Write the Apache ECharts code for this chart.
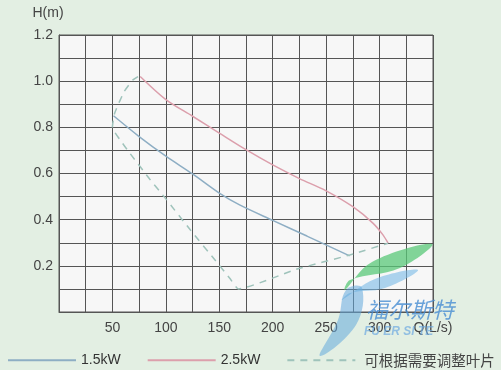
<!DOCTYPE html>
<html><head><meta charset="utf-8">
<script src="https://cdn.jsdelivr.net/npm/echarts@6/dist/echarts.min.js"></script>
<style>html,body{margin:0;padding:0;background:#e3efe3;}#c{width:501px;height:370px;}</style>
</head><body><div id="c"></div>
<script>
const seriesNames = ['1.5kW', '2.5kW', '可根据需要调整叶片'];
const curve15 = [[51,0.85],[75,0.76],[100,0.675],[125,0.598],[150,0.515],[169,0.464],[200,0.397],[232,0.329],[272,0.243]];
const curve25 = [[76,1.02],[100,0.92],[125,0.848],[150,0.775],[175,0.703],[200,0.637],[225,0.578],[250,0.525],[275,0.456],[294,0.384],[303,0.335],[308,0.298]];
const curveAdj = [[74,1.02],[69,1.005],[61,0.955],[52,0.86],[50,0.80],[58,0.74],[66,0.69],[85,0.575],[100,0.49],[123,0.355],[146,0.225],[160,0.145],[168,0.10],[222,0.185],[272,0.247],[308,0.298]];
const xTickLabels = {50:'50',100:'100',150:'150',200:'200',250:'250',300:'300',350:'Q(L/s)'};
const yTickLabels = {2:'0.2',4:'0.4',6:'0.6',8:'0.8',10:'1.0',12:'1.2'};

const chart = echarts.init(document.getElementById('c'));
const font = 'Liberation Sans, Arial, sans-serif';
chart.setOption({
  backgroundColor: '#e3efe3',
  animation: false,
  textStyle: {fontFamily: font},
  grid: {left: 59, top: 35, right: 68, bottom: 58, show: true, backgroundColor: '#f7f7f7', borderColor: '#555', borderWidth: 1},
  xAxis: {
    type: 'value', min: 0, max: 350, interval: 25,
    axisLine: {show: true, lineStyle: {color: '#555', width: 1}},
    axisTick: {show: false},
    splitLine: {show: true, lineStyle: {color: '#555', width: 1}},
    axisLabel: {
      show: true, showMaxLabel: true, showMinLabel: true, margin: 9,
      color: '#444', fontSize: 14, fontFamily: font,
      formatter: v => xTickLabels[v] || ''
    }
  },
  yAxis: {
    type: 'value', min: 0, max: 1.2, interval: 0.1,
    name: 'H(m)', nameLocation: 'end', nameGap: 15,
    nameTextStyle: {color: '#444', fontSize: 14, fontFamily: font, padding: [0, 22, 0, 0]},
    axisLine: {show: true, lineStyle: {color: '#555', width: 1}},
    axisTick: {show: false},
    splitLine: {show: true, lineStyle: {color: '#555', width: 1}},
    axisLabel: {
      show: true, showMaxLabel: true, margin: 6, color: '#444', fontSize: 14, fontFamily: font,
      formatter: v => yTickLabels[Math.round(v * 10)] || ''
    }
  },
  legend: {
    left: 2, top: 348, itemWidth: 68, itemHeight: 12, itemGap: 26,
    data: seriesNames,
    itemStyle: {opacity: 0},
    textStyle: {color: '#333', fontSize: 14, fontFamily: font,
      rich: {cn: {fontFamily: 'Noto Sans CJK SC', fontSize: 14.5, color: '#444', padding: [0, 0, 0, 4]}}},
    formatter: n => n.length > 5 ? '{cn|' + n + '}' : n
  },
  series: [
    {name: seriesNames[0], type: 'line', data: curve15, smooth: 0.3, symbol: 'none', showSymbol: false,
     lineStyle: {color: '#8eaec4', width: 1.5}, itemStyle: {color: '#8eaec4'}, z: 3},
    {name: seriesNames[1], type: 'line', data: curve25, smooth: 0.3, symbol: 'none', showSymbol: false,
     lineStyle: {color: '#dc9fac', width: 1.5}, itemStyle: {color: '#dc9fac'}, z: 3},
    {name: seriesNames[2], type: 'line', data: curveAdj, smooth: 0.15, symbol: 'none', showSymbol: false,
     lineStyle: {color: '#9fc3bb', width: 1.5, type: [7, 6]}, itemStyle: {color: '#9fc3bb'}, z: 3}
  ],
  graphic: [
    {type: 'polygon', z: 10, shape: {points: [[345,290],[372,262],[432,244],[400,268],[350,280]], smooth: 0.4}, style: {fill: 'rgba(90,200,120,0.75)'}},
    {type: 'polygon', z: 10, shape: {points: [[342,300],[375,279],[418,270],[385,288],[350,293]], smooth: 0.4}, style: {fill: 'rgba(120,185,230,0.6)'}},
    {type: 'polygon', z: 10, shape: {points: [[346,290],[362,288],[356,325],[320,356],[338,320]], smooth: 0.4}, style: {fill: 'rgba(100,170,220,0.55)'}},
    {type: 'text', z: 11, left: 366, top: 299, style: {text: '福尔斯特', font: 'italic 22px "Noto Sans CJK SC"', fill: 'rgba(70,140,210,0.8)'}},
    {type: 'text', z: 11, left: 364, top: 326, style: {text: 'FU ER SI TE', font: 'italic bold 12px ' + font, fill: 'rgba(110,170,225,0.7)'}}
  ]
});
</script></body></html>
